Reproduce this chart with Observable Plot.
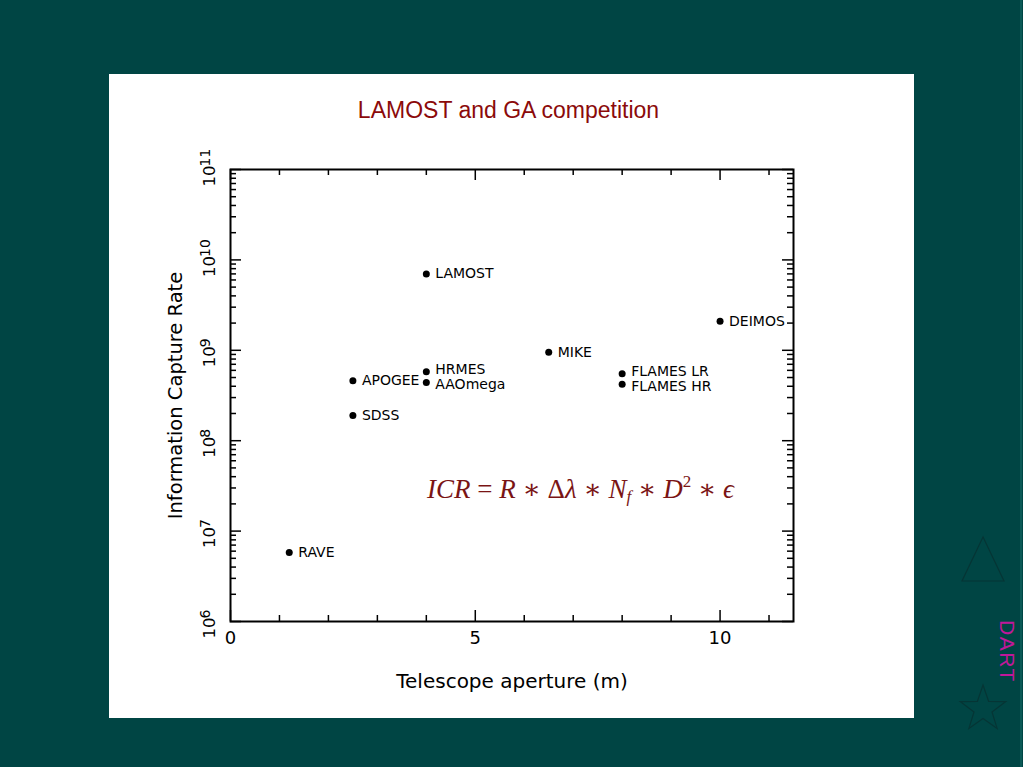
<!DOCTYPE html>
<html>
<head>
<meta charset="utf-8">
<script src="https://cdn.jsdelivr.net/npm/d3@7"></script>
<script src="https://cdn.jsdelivr.net/npm/@observablehq/plot@0.6"></script>
<style>
  html, body { margin: 0; padding: 0; }
  body { width: 1023px; height: 767px; background: #004544; position: relative; overflow: hidden; font-family: "Liberation Sans", Arial, sans-serif; }
  #panel { position: absolute; left: 109px; top: 74px; width: 805px; height: 644px; background: #ffffff; }
  #title { position: absolute; left: 0; width: 799px; top: 23px; text-align: center; color: #8b0a0a; font-size: 23px; font-family: "Liberation Sans", Arial, sans-serif; }
  #chart { position: absolute; left: 0; top: 0; }
  #formula { position: absolute; left: 318px; top: 399px; color: #7a1414; font-family: "Liberation Serif", "DejaVu Serif", serif; font-size: 27px; white-space: nowrap; }
  #formula i { font-style: italic; }
  #formula .sub { font-size: 17px; position: relative; top: 4px; }
  #formula .sup { font-size: 17px; position: relative; top: -11px; }
  #dart { position: absolute; left: 995px; top: 620px; color: #c0189a; font-size: 21px; letter-spacing: 1.5px; writing-mode: vertical-rl; font-family: "Liberation Sans", Arial, sans-serif; }
  #deco { position: absolute; left: 0; top: 0; }
  #edge { position: absolute; left: 1020px; top: 0; width: 2px; height: 767px; background: #0b5a57; }
</style>
</head>
<body>
<div id="panel">
  <div id="title">LAMOST and GA competition</div>
  <div id="chart"></div>
  <div id="formula"><i>ICR</i> = <i>R</i> ∗ Δ<i>λ</i> ∗ <i>N</i><i class="sub">f</i> ∗ <i>D</i><span class="sup">2</span> ∗ <i>ϵ</i></div>
</div>
<svg id="deco" width="1023" height="767">
  <polygon points="983,537 962,581 1004,581" fill="none" stroke="#053535" stroke-width="1.2"/>
  <polygon id="star" fill="none" stroke="#053535" stroke-width="1.2"/>
</svg>
<div id="edge"></div>
<div id="dart">DART</div>
<script>
// ---- data ----
const instruments = ["RAVE", "SDSS", "APOGEE", "LAMOST", "HRMES", "AAOmega", "MIKE", "FLAMES LR", "FLAMES HR", "DEIMOS"];
const aperture = [1.2, 2.5, 2.5, 4.0, 4.0, 4.0, 6.5, 8.0, 8.0, 10.0];
const captureRate = [5.8e6, 1.9e8, 4.6e8, 7.0e9, 5.8e8, 4.4e8, 9.5e8, 5.5e8, 4.2e8, 2.1e9];

const xMajorTicks = [0, 5, 10];
const xTickLabels = ["0", "5", "10"];
const xMinorTicks = [1, 2, 3, 4, 6, 7, 8, 9, 11];
const yDecades = [1e6, 1e7, 1e8, 1e9, 1e10, 1e11];
const yTickBase = ["10", "10", "10", "10", "10", "10"];
const yTickExponent = ["6", "7", "8", "9", "10", "11"];
const yMinorMultipliers = [2, 3, 4, 5, 6, 7, 8, 9];

const upperLabels = ["HRMES", "FLAMES LR"];
const lowerLabels = ["AAOmega", "FLAMES HR"];

const rows = instruments.map((name, i) => ({name, x: aperture[i], y: captureRate[i]}));
const yMinorTicks = yDecades.slice(0, -1).flatMap(d => yMinorMultipliers.map(m => m * d));
const xLab = xMajorTicks.map((v, i) => ({v, t: xTickLabels[i]}));
const yLab = yDecades.map((v, i) => ({v, b: yTickBase[i], e: yTickExponent[i]}));

const W = 805, H = 644;
const mL = 121, mR = 121, mT = 95, mB = 97;
const fh = H - mT - mB, fw = W - mL - mR;
const tk = {stroke: "black", strokeWidth: 1.5};

const chart = Plot.plot({
  width: W, height: H,
  marginLeft: mL, marginRight: mR, marginTop: mT, marginBottom: mB,
  style: {fontFamily: "DejaVu Sans, sans-serif", background: "transparent", color: "black"},
  x: {domain: [0, 11.5], axis: null},
  y: {type: "log", domain: [1e6, 1e11], axis: null},
  marks: [
    // x ticks (inward, bottom and top)
    Plot.tickX(xMajorTicks, {x: d => d, insetTop: fh - 11, ...tk}),
    Plot.tickX(xMajorTicks, {x: d => d, insetBottom: fh - 11, ...tk}),
    Plot.tickX(xMinorTicks, {x: d => d, insetTop: fh - 6, ...tk}),
    Plot.tickX(xMinorTicks, {x: d => d, insetBottom: fh - 6, ...tk}),
    // y ticks (inward, left and right)
    Plot.tickY(yDecades, {y: d => d, insetRight: fw - 11, ...tk}),
    Plot.tickY(yDecades, {y: d => d, insetLeft: fw - 11, ...tk}),
    Plot.tickY(yMinorTicks, {y: d => d, insetRight: fw - 6, ...tk}),
    Plot.tickY(yMinorTicks, {y: d => d, insetLeft: fw - 6, ...tk}),
    Plot.frame({stroke: "black", strokeWidth: 2}),
    // x tick labels
    Plot.text(xLab, {x: "v", text: "t", frameAnchor: "bottom", lineAnchor: "middle", dy: 17, fontSize: 18}),
    // y tick labels: base "10" and raised exponent
    Plot.text(yLab, {y: "v", text: "b", frameAnchor: "left", dx: -16, dy: 17, rotate: -90, textAnchor: "start", lineAnchor: "bottom", fontSize: 16.5}),
    Plot.text(yLab, {y: "v", text: "e", frameAnchor: "left", dx: -21, dy: -3, rotate: -90, textAnchor: "start", lineAnchor: "bottom", fontSize: 14}),
    // axis labels
    Plot.text(["Telescope aperture (m)"], {frameAnchor: "bottom", lineAnchor: "bottom", textAnchor: "middle", dy: 66, fontSize: 20}),
    Plot.text(["Information Capture Rate"], {frameAnchor: "left", lineAnchor: "bottom", textAnchor: "middle", dx: -49, rotate: -90, fontSize: 19.5}),
    // data
    Plot.dot(rows, {x: "x", y: "y", r: 3.5, fill: "black", stroke: null}),
    Plot.text(rows, {filter: d => !upperLabels.includes(d.name) && !lowerLabels.includes(d.name), x: "x", y: "y", text: "name", dx: 9, textAnchor: "start", fontSize: 14}),
    Plot.text(rows, {filter: d => upperLabels.includes(d.name), x: "x", y: "y", text: "name", dx: 9, dy: -2, textAnchor: "start", fontSize: 14}),
    Plot.text(rows, {filter: d => lowerLabels.includes(d.name), x: "x", y: "y", text: "name", dx: 9, dy: 2, textAnchor: "start", fontSize: 14})
  ]
});
document.getElementById("chart").appendChild(chart);

// decorative star outline
const cx = 983, cy = 709, R = 24, r = 9.5;
const pts = d3.range(10).map(i => {
  const a = -Math.PI / 2 + i * Math.PI / 5;
  const rad = i % 2 === 0 ? R : r;
  return [cx + rad * Math.cos(a), cy + rad * Math.sin(a)].map(v => v.toFixed(1)).join(",");
});
document.getElementById("star").setAttribute("points", pts.join(" "));
</script>
</body>
</html>
